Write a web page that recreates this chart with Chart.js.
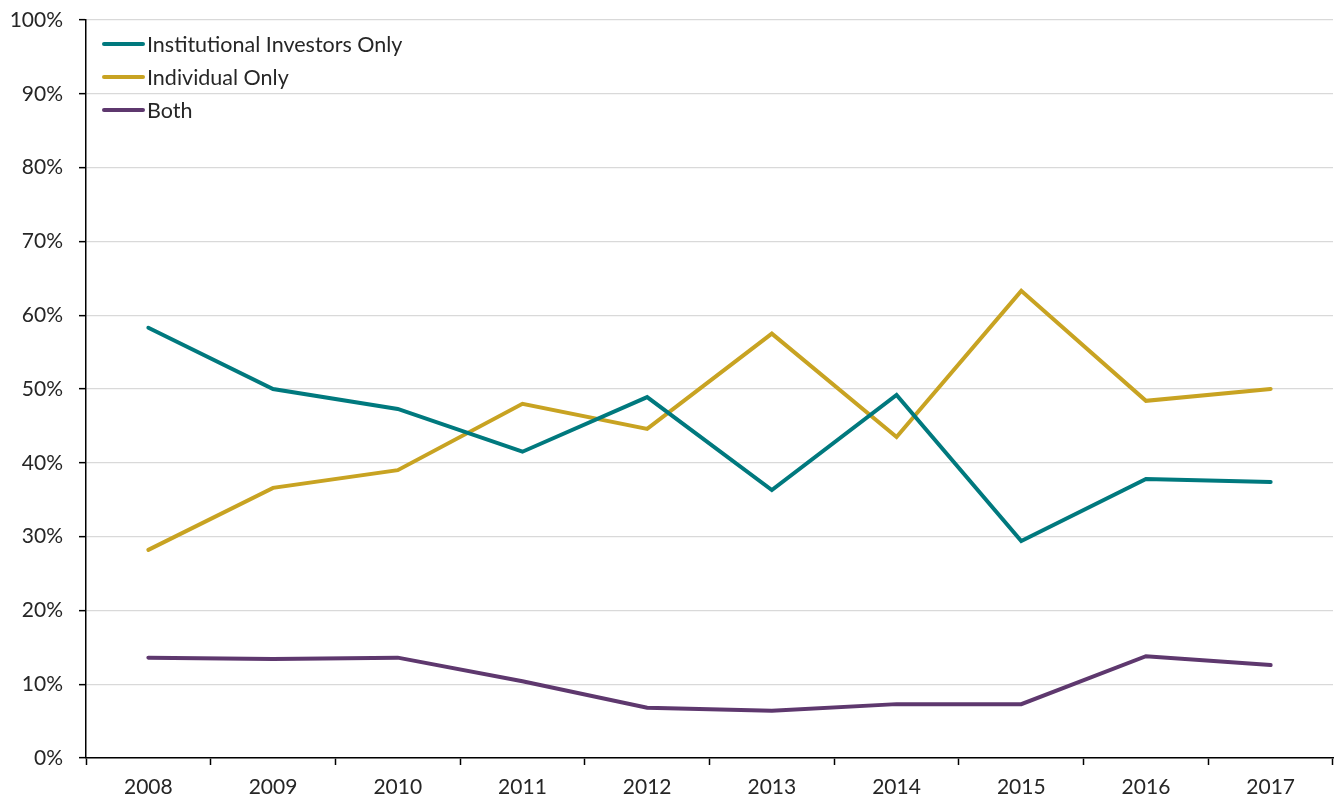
<!DOCTYPE html>
<html>
<head>
<meta charset="utf-8">
<script src="https://cdn.jsdelivr.net/npm/chart.js@4"></script>
<style>
  html, body { margin: 0; padding: 0; background: #fff; }
  #wrap { width: 1336px; height: 801px; }
</style>
</head>
<body>
<div id="wrap"><canvas id="myChart" width="1336" height="801"></canvas></div>
<script>
// dados
const years = ['2008', '2009', '2010', '2011', '2012', '2013', '2014', '2015', '2016', '2017']
const institutional = [58.3, 50.0, 47.3, 41.5, 48.9, 36.3, 49.2, 29.4, 37.8, 37.4]
const individual = [28.2, 36.6, 39.0, 48.0, 44.6, 57.5, 43.5, 63.3, 48.4, 50.0]
const both = [13.6, 13.4, 13.6, 10.4, 6.8, 6.4, 7.3, 7.3, 13.8, 12.6]
const seriesNames = ['Institutional Investors Only', 'Individual Only', 'Both']
const colors = ['#00797e', '#c8a322', '#5e386e']

const FONT = 'Lato, "Open Sans", sans-serif'

// legenda desenhada dentro da área do gráfico
const insideLegend = {
  id: 'insideLegend',
  afterDraw(chart) {
    const ctx = chart.ctx
    ctx.save()
    ctx.font = '21.5px ' + FONT
    ctx.textBaseline = 'middle'
    chart.data.datasets.forEach((ds, i) => {
      const y = 44 + i * 33
      ctx.strokeStyle = ds.borderColor
      ctx.lineWidth = 4
      ctx.lineCap = 'round'
      ctx.beginPath()
      ctx.moveTo(104, y)
      ctx.lineTo(143, y)
      ctx.stroke()
      ctx.fillStyle = '#262626'
      ctx.fillText(ds.label, 147, y + 1)
    })
    ctx.restore()
  }
}

const ctx = document.getElementById('myChart').getContext('2d')
new Chart(ctx, {
  type: 'line',
  data: {
    labels: years,
    datasets: [
      { label: seriesNames[0], data: institutional, borderColor: colors[0] },
      { label: seriesNames[1], data: individual, borderColor: colors[1] },
      { label: seriesNames[2], data: both, borderColor: colors[2] }
    ].map(d => Object.assign(d, {
      borderWidth: 4,
      pointRadius: 0,
      tension: 0,
      fill: false,
      borderCapStyle: 'round',
      borderJoinStyle: 'miter'
    }))
  },
  options: {
    responsive: false,
    animation: false,
    layout: { padding: { top: 20, right: 3, left: 0, bottom: 0 } },
    plugins: {
      legend: { display: false },
      tooltip: { enabled: false }
    },
    scales: {
      x: {
        offset: true,
        grid: {
          offset: true,
          drawOnChartArea: false,
          tickLength: 7,
          tickColor: '#000',
          tickWidth: 1.5
        },
        border: { color: '#000', width: 1.5 },
        ticks: {
          color: '#262626',
          font: { family: FONT, size: 21 },
          padding: 10,
          maxRotation: 0
        },
        afterFit: s => { s.height = 43 }
      },
      y: {
        min: 0,
        max: 100,
        grid: {
          color: '#d9d9d9',
          lineWidth: 1.3,
          tickLength: 7,
          tickColor: '#000',
          tickWidth: 1.5
        },
        border: { color: '#000', width: 1.5 },
        ticks: {
          stepSize: 10,
          color: '#262626',
          font: { family: FONT, size: 21 },
          padding: 16,
          callback: v => v + '%'
        },
        afterFit: s => {
          s.width = 86
          s.paddingTop = 0
          s.paddingBottom = 0
        }
      }
    }
  },
  plugins: [insideLegend]
})
</script>
</body>
</html>
